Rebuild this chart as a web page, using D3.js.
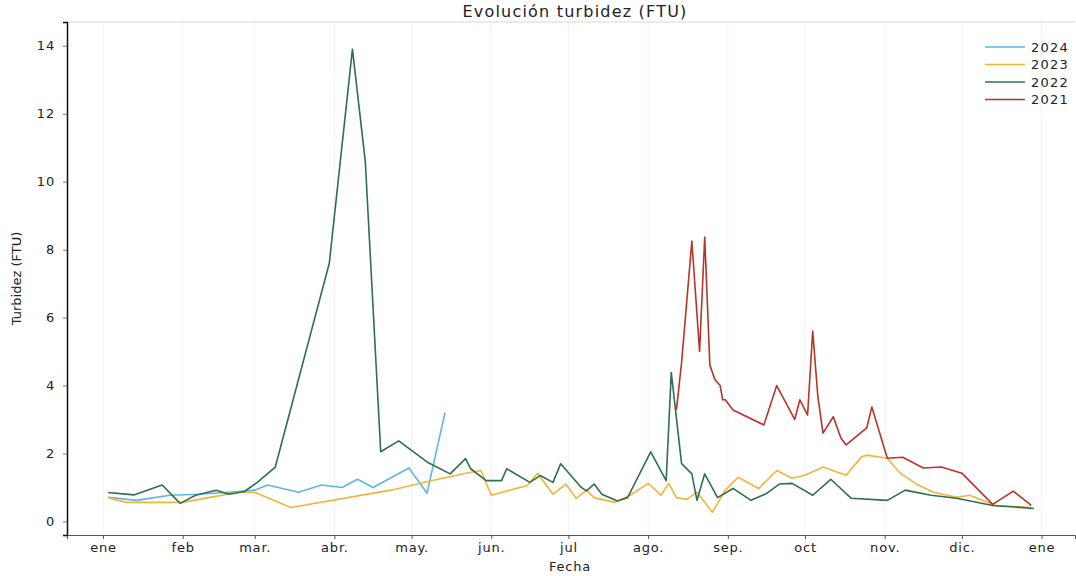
<!DOCTYPE html>
<html><head><meta charset="utf-8">
<script src="https://cdn.jsdelivr.net/npm/d3@7"></script>
<style>
body{margin:0;background:#fff;}
svg{display:block;font-family:"DejaVu Sans",sans-serif;}
</style></head>
<body><svg id="c" width="1076" height="576"></svg>
<script>
// Data: dates as MM-DD (plotted on a common year), values in FTU
const dates2024 = ["01-03","01-14","01-27","02-07","02-19","03-01","03-06","03-18","03-27","04-04","04-10","04-16","04-30","05-07","05-14"];
const vals2024  = [0.71,0.62,0.77,0.80,0.86,0.92,1.07,0.86,1.07,1.00,1.24,1.00,1.57,0.83,3.20];

const dates2023 = ["01-03","01-10","02-01","02-11","02-23","03-01","03-15","04-23","05-06","05-22","05-28","06-01","06-15","06-19","06-25","06-30","07-04","07-08","07-11","07-19","07-25","08-01","08-06","08-09","08-12","08-16","08-20","08-26","08-31","09-05","09-13","09-20","09-26","10-01","10-08","10-17","10-23","10-25","11-02","11-07","11-14","11-20","11-29","12-04","12-09","12-14","12-28"];
const vals2023  = [0.70,0.56,0.56,0.70,0.86,0.86,0.41,0.92,1.15,1.42,1.50,0.77,1.06,1.42,0.80,1.10,0.68,0.92,0.70,0.56,0.77,1.12,0.77,1.12,0.70,0.65,0.86,0.27,0.92,1.30,0.97,1.50,1.27,1.36,1.60,1.36,1.90,1.95,1.86,1.42,1.07,0.86,0.71,0.77,0.62,0.47,0.41];

const dates2022 = ["01-03","01-13","01-24","01-31","02-06","02-14","02-19","02-25","03-02","03-09","03-30","04-08","04-13","04-19","04-26","05-07","05-16","05-22","05-24","05-30","06-05","06-07","06-16","06-20","06-25","06-28","07-06","07-08","07-11","07-14","07-20","07-24","08-02","08-08","08-10","08-14","08-18","08-20","08-23","08-28","09-03","09-10","09-16","09-21","09-26","10-04","10-11","10-19","11-02","11-09","11-19","11-29","12-13","12-29"];
const vals2022  = [0.85,0.78,1.07,0.53,0.77,0.92,0.80,0.88,1.15,1.60,7.60,13.9,10.6,2.05,2.37,1.75,1.40,1.85,1.55,1.20,1.20,1.55,1.15,1.35,1.15,1.70,1.00,0.90,1.10,0.80,0.60,0.70,2.05,1.20,4.38,1.70,1.40,0.62,1.40,0.70,0.97,0.62,0.82,1.10,1.12,0.77,1.24,0.68,0.62,0.92,0.77,0.68,0.47,0.38];

const dates2021 = ["08-12","08-14","08-18","08-21","08-23","08-25","08-27","08-29","08-30","08-31","09-03","09-15","09-20","09-27","09-29","10-02","10-04","10-06","10-08","10-12","10-15","10-17","10-25","10-27","11-02","11-08","11-16","11-23","12-01","12-13","12-21","12-28"];
const vals2021  = [3.28,4.67,8.25,5.00,8.37,4.60,4.17,4.00,3.58,3.58,3.28,2.84,4.00,3.00,3.58,3.13,5.60,3.67,2.60,3.08,2.45,2.25,2.75,3.37,1.86,1.89,1.57,1.60,1.42,0.50,0.89,0.47];

const seriesNames = ["2024","2023","2022","2021"];
const seriesColors = ["#5fb6e3","#f3b43a","#2f6f4e","#b8342a"];
const monthLabels = ["ene","feb","mar.","abr.","may.","jun.","jul","ago.","sep.","oct","nov.","dic.","ene"];
const yTicks = [0,2,4,6,8,10,12,14];

const series = [
  {d:dates2024,v:vals2024},{d:dates2023,v:vals2023},{d:dates2022,v:vals2022},{d:dates2021,v:vals2021}
];

const svg = d3.select("#c");
const m={l:67,r:1075,t:22,b:535};
const parse = s => new Date(Date.UTC(2023, +s.slice(0,2)-1, +s.slice(3,5)));

const x = d3.scaleUtc()
  .domain([new Date(Date.UTC(2022,11,18)), new Date(Date.UTC(2024,0,14))])
  .range([m.l, m.r]);
const y = d3.scaleLinear().domain([-0.4, 14.7]).range([m.b, m.t]);

const monthTicks = d3.range(13).map(i => new Date(Date.UTC(2023, i, 1)));

// faint grid
svg.append("g").selectAll("line").data(monthTicks).join("line")
  .attr("x1",d=>x(d)).attr("x2",d=>x(d)).attr("y1",m.t).attr("y2",m.b)
  .attr("stroke","#f2f2f2").attr("stroke-width",1);
svg.append("line").attr("x1",m.l).attr("x2",m.r).attr("y1",m.t).attr("y2",m.t)
  .attr("stroke","#d8d8d8");

// axes
const xAxis = d3.axisBottom(x).tickValues(monthTicks).tickFormat((d,i)=>monthLabels[i]).tickSize(4).tickPadding(4);
const gx = svg.append("g").attr("transform",`translate(0,${m.b})`).call(xAxis);
gx.select(".domain").attr("stroke","#555");
gx.selectAll(".tick line").attr("stroke","#555");
gx.selectAll("text").attr("font-size",13).attr("letter-spacing",0.8).attr("fill","#222").attr("font-family","DejaVu Sans");

const yAxis = d3.axisLeft(y).tickValues(yTicks).tickSize(4).tickPadding(8);
const gy = svg.append("g").attr("transform",`translate(${m.l},0)`).call(yAxis);
gy.select(".domain").attr("stroke","#111").attr("stroke-width",1.5);
gy.selectAll(".tick line").attr("stroke","#777");
gy.selectAll("text").attr("font-size",13).attr("letter-spacing",0.8).attr("fill","#222").attr("font-family","DejaVu Sans");

// lines
const line = d3.line().x(d=>x(d[0])).y(d=>y(d[1]));
series.forEach((s,i)=>{
  const pts = s.d.map((dd,j)=>[parse(dd), s.v[j]]);
  svg.append("path").datum(pts).attr("d",line)
    .attr("fill","none").attr("stroke",seriesColors[i]).attr("stroke-width",1.6)
    .attr("stroke-linejoin","round");
});

// title and labels
svg.append("text").attr("x",575).attr("y",17).attr("text-anchor","middle")
  .attr("font-size",16).attr("letter-spacing",1.2).attr("fill","#222").text("Evolución turbidez (FTU)");
svg.append("text").attr("x",570).attr("y",571).attr("text-anchor","middle")
  .attr("font-size",13).attr("letter-spacing",0.8).attr("fill","#222").text("Fecha");
svg.append("text").attr("transform",`translate(21,${(m.t+m.b)/2}) rotate(-90)`)
  .attr("text-anchor","middle").attr("font-size",13).attr("fill","#222").text("Turbidez (FTU)");

// legend
const lg = svg.append("g").attr("transform","translate(985,47)");
seriesNames.forEach((n,i)=>{
  const g = lg.append("g").attr("transform",`translate(0,${i*17.5})`);
  g.append("line").attr("x1",0).attr("x2",40).attr("y1",0).attr("y2",0)
    .attr("stroke",seriesColors[i]).attr("stroke-width",1.6);
  g.append("text").attr("x",46).attr("y",4.5).attr("font-size",13).attr("letter-spacing",1.2).attr("fill","#222").text(n);
});
</script></body></html>
